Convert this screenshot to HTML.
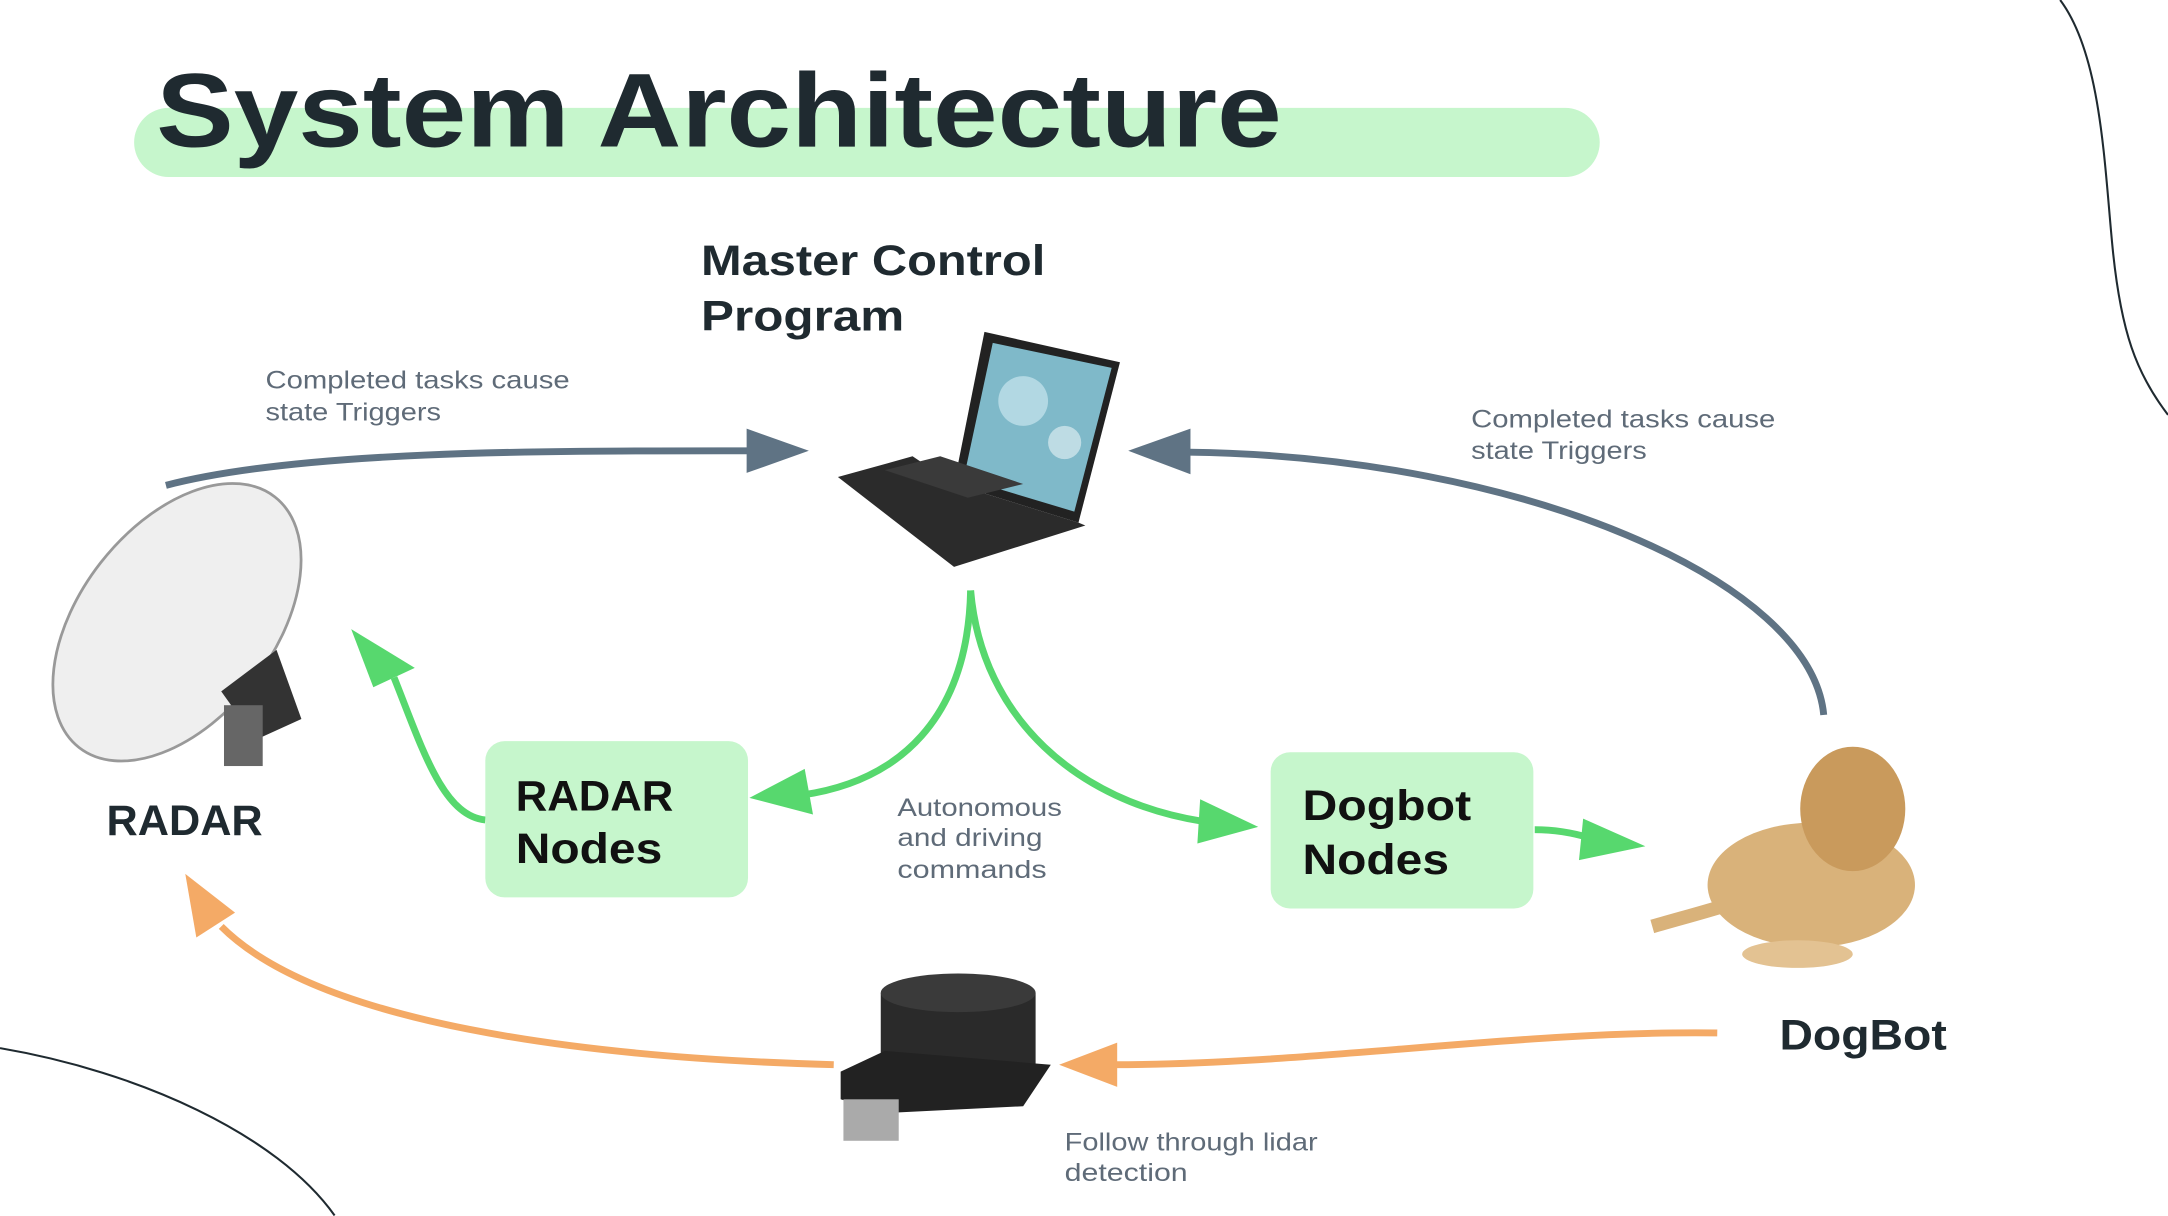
<!DOCTYPE html>
<html><head><meta charset="utf-8"><style>
html,body{margin:0;padding:0;background:#fff;}
svg{display:block;}
text{font-family:"Liberation Sans",sans-serif;}
</style></head><body>
<svg width="2168" height="1216" viewBox="0 0 1568 879.4" preserveAspectRatio="none" xmlns="http://www.w3.org/2000/svg">
<rect width="1568" height="880" fill="#fff"/>
<path d="M1490 0 C1520 40 1522 120 1528 180 C1534 240 1545 270 1568 300" fill="none" stroke="#1f2a30" stroke-width="1.5"/>
<path d="M0 758 C100 775 200 820 242 879" fill="none" stroke="#1f2a30" stroke-width="1.5"/>
<rect x="97" y="78" width="1060" height="50" rx="25" fill="#c6f6cc"/>
<text x="113" y="106" font-size="76" font-weight="900" fill="#1f2a30" textLength="814" lengthAdjust="spacingAndGlyphs">System Architecture</text>
<text x="507" y="199" font-size="31" font-weight="bold" fill="#1f2a30" textLength="249" lengthAdjust="spacingAndGlyphs">Master Control</text>
<text x="507" y="239" font-size="31" font-weight="bold" fill="#1f2a30" textLength="147" lengthAdjust="spacingAndGlyphs">Program</text>
<polygon points="712,240 810,262 780,378 690,350" fill="#222"/>
<polygon points="718,248 804,266 777,370 697,346" fill="#7fb9c9"/>
<circle cx="740" cy="290" r="18" fill="#c8e6ee" opacity="0.7"/>
<circle cx="770" cy="320" r="12" fill="#e8f4f6" opacity="0.6"/>
<polygon points="690,350 780,378 785,380 690,410 606,345 660,330" fill="#2b2b2b"/>
<polygon points="640,340 700,360 740,350 680,330" fill="#3a3a3a"/>
<path d="M120 351 C220 325 400 326 545 326" fill="none" stroke="#5f7384" stroke-width="5"/>
<polygon points="540,310 585,326 540,342" fill="#5f7384"/>
<text x="192" y="281" font-size="18" fill="#5f6b78" textLength="220" lengthAdjust="spacingAndGlyphs">Completed tasks cause</text>
<text x="192" y="304" font-size="18" fill="#5f6b78" textLength="127" lengthAdjust="spacingAndGlyphs">state Triggers</text>
<path d="M1319 517 C1310 420 1100 330 860 327" fill="none" stroke="#5f7384" stroke-width="5"/>
<polygon points="861,310 816,326 861,343" fill="#5f7384"/>
<text x="1064" y="309" font-size="18" fill="#5f6b78" textLength="220" lengthAdjust="spacingAndGlyphs">Completed tasks cause</text>
<text x="1064" y="332" font-size="18" fill="#5f6b78" textLength="127" lengthAdjust="spacingAndGlyphs">state Triggers</text>
<ellipse cx="128" cy="450" rx="70" ry="115" transform="rotate(38 128 450)" fill="#efefef" stroke="#999" stroke-width="2"/>
<polygon points="160,500 200,470 218,520 185,535" fill="#333"/>
<rect x="162" y="510" width="28" height="44" fill="#666"/>
<text x="77" y="604" font-size="31" font-weight="bold" fill="#1f2a30" textLength="113" lengthAdjust="spacingAndGlyphs">RADAR</text>
<path d="M702 427 C700 520 650 565 580 575" fill="none" stroke="#57d86e" stroke-width="5"/>
<polygon points="542,577 582,556 588,589" fill="#57d86e"/>
<path d="M702 427 C710 520 780 580 870 594" fill="none" stroke="#57d86e" stroke-width="5"/>
<polygon points="910,598 868,578 866,610" fill="#57d86e"/>
<path d="M351 593 C320 590 305 540 285 490" fill="none" stroke="#57d86e" stroke-width="5"/>
<polygon points="254,455 300,483 270,497" fill="#57d86e"/>
<path d="M1110 600 C1125 600 1140 603 1150 606" fill="none" stroke="#57d86e" stroke-width="5"/>
<polygon points="1190,612 1145,592 1142,622" fill="#57d86e"/>
<rect x="351" y="536" width="190" height="113" rx="14" fill="#c6f6cc"/>
<text x="373" y="586" font-size="31" font-weight="900" fill="#111" textLength="114" lengthAdjust="spacingAndGlyphs">RADAR</text>
<text x="373" y="624" font-size="31" font-weight="900" fill="#111" textLength="106" lengthAdjust="spacingAndGlyphs">Nodes</text>
<rect x="919" y="544" width="190" height="113" rx="14" fill="#c6f6cc"/>
<text x="942" y="593" font-size="31" font-weight="900" fill="#111" textLength="122" lengthAdjust="spacingAndGlyphs">Dogbot</text>
<text x="942" y="632" font-size="31" font-weight="900" fill="#111" textLength="106" lengthAdjust="spacingAndGlyphs">Nodes</text>
<text x="649" y="590" font-size="18" fill="#5f6b78" textLength="119" lengthAdjust="spacingAndGlyphs">Autonomous</text>
<text x="649" y="612" font-size="18" fill="#5f6b78" textLength="105" lengthAdjust="spacingAndGlyphs">and driving</text>
<text x="649" y="635" font-size="18" fill="#5f6b78" textLength="108" lengthAdjust="spacingAndGlyphs">commands</text>
<ellipse cx="1310" cy="640" rx="75" ry="45" fill="#d9b27a"/>
<ellipse cx="1340" cy="585" rx="38" ry="45" fill="#c99a5c"/>
<ellipse cx="1300" cy="690" rx="40" ry="10" fill="#e3c292"/>
<path d="M1195 670 C1230 660 1250 655 1260 650" stroke="#d9b27a" stroke-width="10" fill="none"/>
<text x="1287" y="759" font-size="31" font-weight="bold" fill="#1f2a30" textLength="121" lengthAdjust="spacingAndGlyphs">DogBot</text>
<path d="M1242 747 C1100 745 950 770 805 770" fill="none" stroke="#f4aa66" stroke-width="5"/>
<polygon points="766,770 808,754 808,786" fill="#f4aa66"/>
<path d="M603 770 C420 765 230 740 160 670" fill="none" stroke="#f4aa66" stroke-width="5"/>
<polygon points="134,632 170,660 142,678" fill="#f4aa66"/>
<rect x="637" y="718" width="112" height="60" fill="#2a2a2a"/>
<ellipse cx="693" cy="718" rx="56" ry="14" fill="#3a3a3a"/>
<polygon points="608,775 640,760 760,770 740,800 640,805 608,795" fill="#222"/>
<rect x="610" y="795" width="40" height="30" fill="#aaa"/>
<text x="770" y="832" font-size="18" fill="#5f6b78" textLength="183" lengthAdjust="spacingAndGlyphs">Follow through lidar</text>
<text x="770" y="854" font-size="18" fill="#5f6b78" textLength="89" lengthAdjust="spacingAndGlyphs">detection</text>
</svg>
</body></html>
